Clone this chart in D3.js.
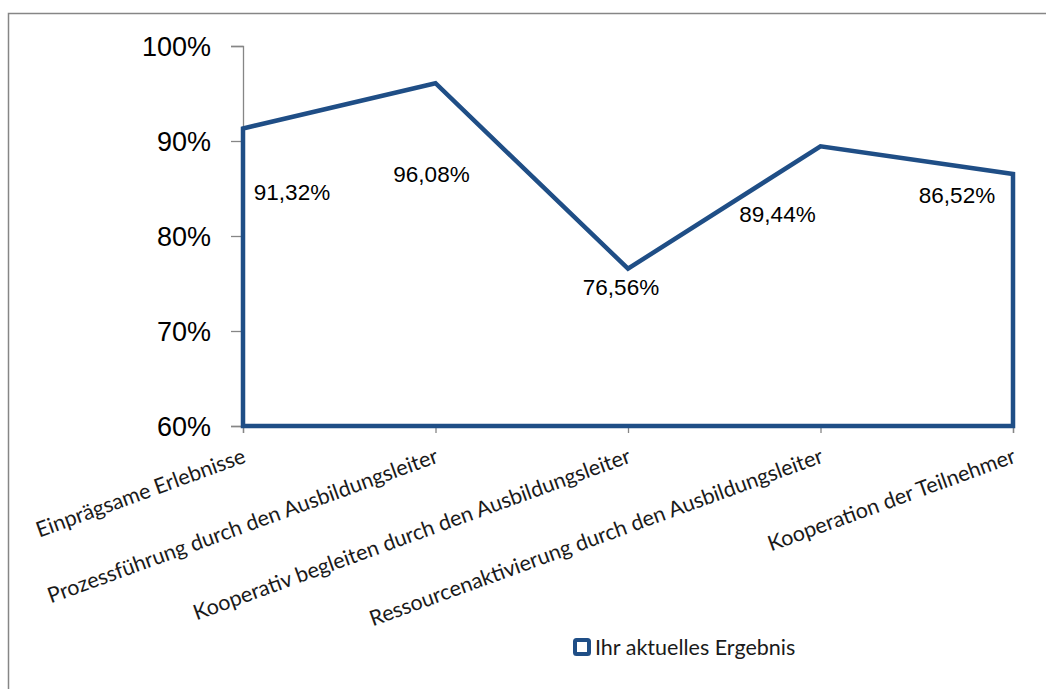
<!DOCTYPE html>
<html>
<head>
<meta charset="utf-8">
<script src="https://cdn.jsdelivr.net/npm/d3@7"></script>
<style>
  body { margin: 0; background: #fff; }
  svg { display: block; }
  .tick text { fill: #000; }
</style>
</head>
<body>
<div id="chart"></div>
<script>
var svgWidth = 1046;
var svgHeight = 689;

// data
var categories = [
  "Einprägsame Erlebnisse",
  "Prozessführung durch den Ausbildungsleiter",
  "Kooperativ begleiten durch den Ausbildungsleiter",
  "Ressourcenaktivierung durch den Ausbildungsleiter",
  "Kooperation der Teilnehmer"
];
var results = [91.32, 96.08, 76.56, 89.44, 86.52];
var yTicks = [60, 70, 80, 90, 100];
var seriesName = "Ihr aktuelles Ergebnis";

// where excel put the value labels, relative to each point
var labelShift = [[49, 72], [-4, 99], [-7, 26], [-43, 76], [-56, 29]];

var margin = { top: 46, right: 33, bottom: 263, left: 243 };
var width = svgWidth - margin.left - margin.right;
var height = svgHeight - margin.top - margin.bottom;

var blue = "#1f4e86";
var axisGray = "#868686";

var svg = d3.select("#chart")
  .append("svg")
  .attr("width", svgWidth)
  .attr("height", svgHeight);

// outer frame (only top and left visible)
svg.append("path")
  .attr("d", "M8.5," + svgHeight + "V13.5H" + svgWidth)
  .attr("fill", "none")
  .attr("stroke", axisGray)
  .attr("stroke-width", 1.5);

var chartGroup = svg.append("g")
  .attr("transform", `translate(${margin.left}, ${margin.top})`);

var xScale = d3.scalePoint()
  .domain(categories)
  .range([0, width])
  .padding(0);

var yScale = d3.scaleLinear()
  .domain([60, 100])
  .range([height, 0]);

var leftAxis = d3.axisLeft(yScale)
  .tickValues(yTicks)
  .tickSize(12)
  .tickPadding(20)
  .tickFormat(d => d + "%");

var bottomAxis = d3.axisBottom(xScale)
  .tickSize(7)
  .tickFormat("");

var yAxisG = chartGroup.append("g").call(leftAxis);
yAxisG.selectAll("path, line").attr("stroke", axisGray).attr("stroke-width", 1.3);
yAxisG.selectAll("text")
  .attr("font-family", "'Liberation Sans', Arial, sans-serif")
  .attr("font-size", 27)
  .attr("dy", "0.36em");

var xAxisG = chartGroup.append("g")
  .attr("transform", `translate(0, ${height})`)
  .call(bottomAxis);
xAxisG.selectAll("path, line").attr("stroke", axisGray).attr("stroke-width", 1.3);

// area outline
var area = d3.area()
  .x((d, i) => xScale(categories[i]))
  .y0(yScale(60))
  .y1(d => yScale(d));

chartGroup.append("path")
  .datum(results)
  .attr("d", area)
  .attr("fill", "#fff")
  .attr("fill-opacity", 0)
  .attr("stroke", blue)
  .attr("stroke-width", 4.5)
  .attr("stroke-linejoin", "miter");

// value labels
chartGroup.selectAll(".valueLabel")
  .data(results)
  .enter()
  .append("text")
  .attr("class", "valueLabel")
  .attr("x", (d, i) => xScale(categories[i]) + labelShift[i][0])
  .attr("y", (d, i) => yScale(d) + labelShift[i][1])
  .attr("text-anchor", "middle")
  .attr("font-family", "'Liberation Sans', Arial, sans-serif")
  .attr("font-size", 22.5)
  .attr("fill", "#000")
  .text(d => d.toFixed(2).replace(".", ",") + "%");

// category labels, rotated
chartGroup.selectAll(".catLabel")
  .data(categories)
  .enter()
  .append("text")
  .attr("class", "catLabel")
  .attr("transform", d => `translate(${xScale(d) + 4}, ${height + 36}) rotate(-20)`)
  .attr("text-anchor", "end")
  .attr("font-family", "Lato, 'Open Sans', sans-serif")
  .attr("font-size", 21.5)
  .attr("fill", "#1a1a1a")
  .text(d => d);

// legend
var legend = svg.append("g")
  .attr("transform", "translate(575, 640)");

legend.append("rect")
  .attr("width", 14)
  .attr("height", 14)
  .attr("rx", 1.5)
  .attr("fill", "#fff")
  .attr("stroke", blue)
  .attr("stroke-width", 4);

legend.append("text")
  .attr("x", 20)
  .attr("y", 15)
  .attr("font-family", "Lato, 'Open Sans', sans-serif")
  .attr("font-size", 21.5)
  .attr("fill", "#1a1a1a")
  .text(seriesName);
</script>
</body>
</html>
